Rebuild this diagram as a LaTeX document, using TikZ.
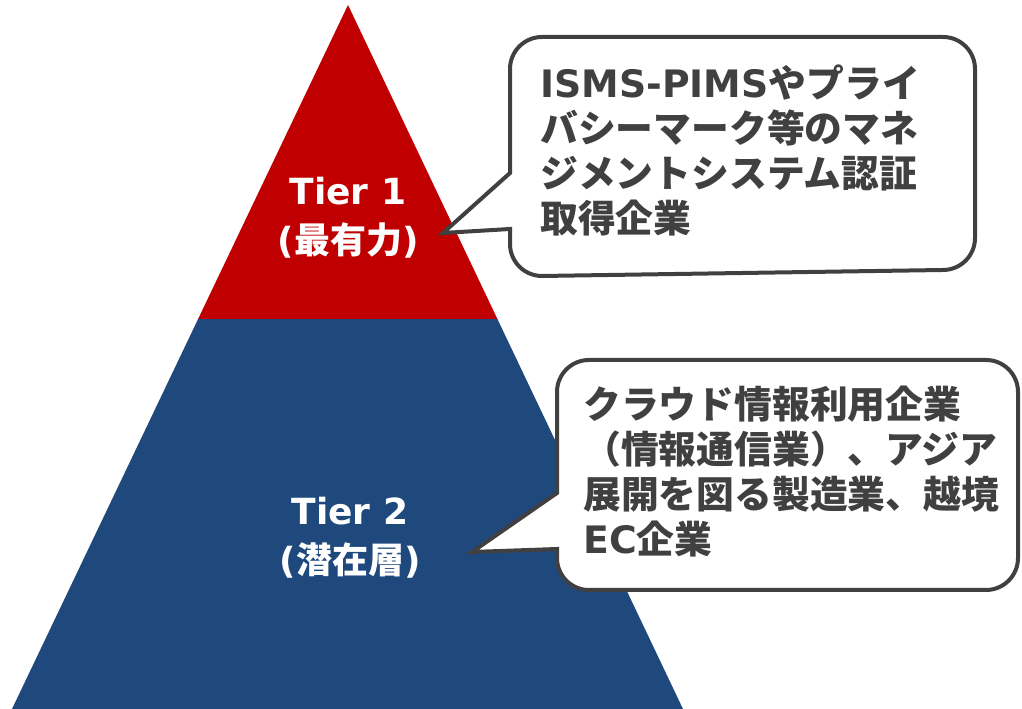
\documentclass[tikz,border=0pt]{standalone}
\usepackage{fontspec}
\setmainfont{Noto Sans CJK JP}
\newfontfamily\lat{DejaVu Sans}
\definecolor{tred}{HTML}{C00000}
\definecolor{tblue}{HTML}{1F497D}
\definecolor{dgray}{HTML}{404040}
\begin{document}
\begin{tikzpicture}[x=0.75pt,y=0.75pt,
  callout/.style={draw=dgray,fill=white,line width=3pt,line join=miter},
  calltext/.style={text=dgray,font=\bfseries\fontsize{28.35}{33.75}\selectfont,align=left,inner sep=0pt,anchor=west},
  tiertext/.style={text=white,font=\bfseries\fontsize{27}{36.75}\selectfont,align=center,inner sep=0pt}]
\useasboundingbox (0,0) rectangle (1022,709);
% pyramid
\coordinate (apex) at (348,704);
\coordinate (bl) at (12,0);
\coordinate (br) at (683,0);
\coordinate (ml) at (198.1,390);
\coordinate (mr) at (497.4,390);
\fill[tblue] (ml) -- (mr) -- (br) -- (bl) -- cycle;
\fill[tred] (apex) -- (mr) -- (ml) -- cycle;
\node[tiertext] (t1) at (348,491) {{\lat Tier 1}\\{\lat(}最有力{\lat)}};
\node[tiertext] (t2) at (350,171) {{\lat Tier 2}\\{\lat(}潜在層{\lat)}};
% callout 1
\coordinate (tip1) at (443,476);
\draw[callout] (tip1) -- (510,480) -- (510,465) arc[start angle=180,end angle=270,radius=24pt]
  -- (943,439) arc[start angle=270,end angle=360,radius=24pt]
  -- (975,640) arc[start angle=0,end angle=90,radius=24pt]
  -- (542,672) arc[start angle=90,end angle=180,radius=24pt]
  -- (510,536) -- cycle;
\node[calltext] (c1) at (540,559) {{\lat ISMS-PIMS}やプライ\\バシーマーク等のマネ\\ジメントシステム認証\\取得企業};
% callout 2
\coordinate (tip2) at (472,157);
\draw[callout] (tip2) -- (557,160) -- (557,151) arc[start angle=180,end angle=270,radius=24pt]
  -- (986,119) arc[start angle=270,end angle=360,radius=24pt]
  -- (1018,317) arc[start angle=0,end angle=90,radius=24pt]
  -- (589,349) arc[start angle=90,end angle=180,radius=24pt]
  -- (557,216) -- cycle;
\node[calltext] (c2) at (583,237) {クラウド情報利用企業\\（情報通信業）、アジア\\展開を図る製造業、越境\\{\lat EC}企業};
\end{tikzpicture}
\end{document}
